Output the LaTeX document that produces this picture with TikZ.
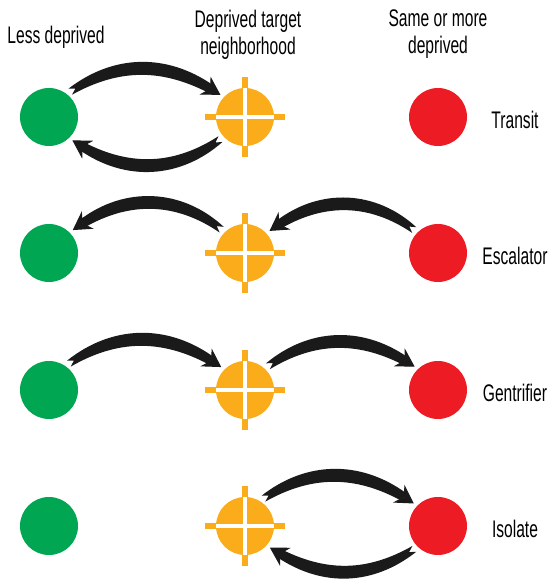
\documentclass[tikz,border=0pt]{standalone}
\usepackage{fontspec}
\setmainfont{Liberation Sans}[FakeStretch=0.65]
\usetikzlibrary{arrows.meta,calc,backgrounds}
\definecolor{cgreen}{HTML}{00A651}
\definecolor{corange}{HTML}{FAAC1A}
\definecolor{cred}{HTML}{ED1C24}
\definecolor{carrow}{HTML}{1A1A1A}
\newcommand\bigarrow[3]{%
  \pgfmathsetmacro\bendp{#3+4}%
  \pgfmathsetmacro\bendm{#3-4}%
  \pgfmathsetmacro\nrma{#3+90}%
  \pgfmathsetmacro\nrmb{#3-90}%
  \pgfmathsetmacro\tng{#3}%
  \path (#1) to[bend left=#3] coordinate[pos=0.93] (aB) (#2);
  \coordinate (aTo) at ($(#1)!3.5pt!\nrma:(#2)$);
  \coordinate (aTi) at ($(#1)!3.5pt!\nrmb:(#2)$);
  \coordinate (aTn) at ($(#1)!6pt!\tng:(#2)$);
  \coordinate (aBo) at ($(aB)!4.5pt!90:(#2)$);
  \coordinate (aBi) at ($(aB)!4.5pt!-90:(#2)$);
  \fill[carrow] (aTo) to[bend left=\bendp] (aBo) -- (aBi) to[bend right=\bendm] (aTi) -- (aTn) -- cycle;
  \draw[carrow, line width=1pt, -{Stealth[length=18pt,width=21pt,inset=6pt]}] (aB) -- (#2);
}
\tikzset{
  dot/.style={circle, minimum size=58pt, inner sep=0pt, outer sep=4pt},
  less/.style={dot, fill=cgreen},
  more/.style={dot, fill=cred},
  tgt/.style={dot, fill=corange,
    path picture={\draw[white, line width=4pt]
      (path picture bounding box.north) -- (path picture bounding box.south)
      (path picture bounding box.west) -- (path picture bounding box.east);}},
  arm/.style={corange, line width=5.5pt},
  txt/.style={font=\fontsize{24}{27}\selectfont, inner sep=0pt, text=black},
}
\begin{document}
\begin{tikzpicture}[x=1pt,y=1pt]
\useasboundingbox (0,0) rectangle (552,581);
% headers
\node[txt, anchor=base] (h1) at (56,537) {Less deprived};
\node[txt, anchor=north, align=center] (h2) at (248,571.5) {Deprived target\\neighborhood};
\node[txt, anchor=north, align=center] (h3) at (438,571.5) {Same or more\\deprived};
% rows
\foreach \i/\y/\lab in {1/464/Transit, 2/328/Escalator, 3/191/Gentrifier, 4/55/Isolate}{
  \node[less] (g\i) at (49,\y) {};
  \node[tgt] (o\i) at (245,\y) {};
  \node[more] (r\i) at (438,\y) {};
  \node[txt, anchor=base] (l\i) at (515,\y-12) {\lab};
}
\begin{pgfonlayer}{background}
\foreach \i in {1,2,3,4}{
  \draw[arm] ($(o\i.center)+(0,40)$) -- ($(o\i.center)+(0,-40)$);
  \draw[arm] ($(o\i.center)+(-40,0)$) -- ($(o\i.center)+(40,0)$);
}
\end{pgfonlayer}
% arrows
\bigarrow{g1.50}{o1.138}{32}
\bigarrow{o1.222}{g1.-45}{34}
\bigarrow{o2.135}{g2.44}{-36}
\bigarrow{r2.136}{o2.42}{-36}
\bigarrow{g3.53}{o3.136}{33}
\bigarrow{o3.46}{r3.135}{33}
\bigarrow{o4.56}{r4.137}{33}
\bigarrow{r4.224}{o4.-41}{32}
\end{tikzpicture}
\end{document}
